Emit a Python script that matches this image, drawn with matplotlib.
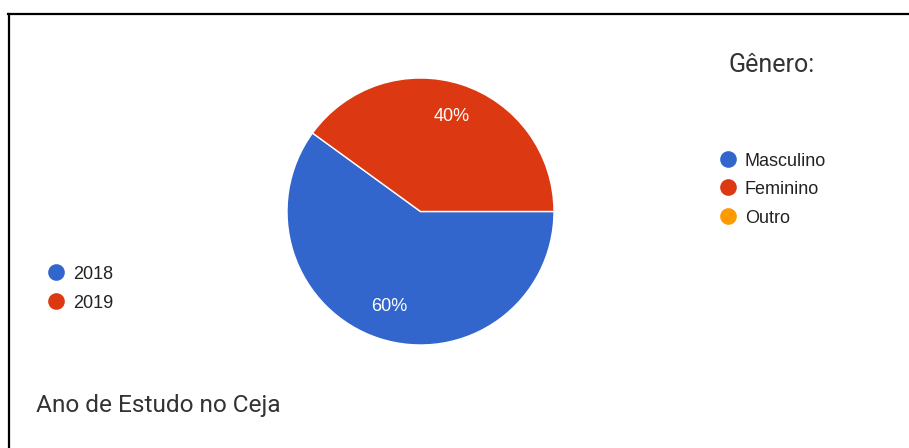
import matplotlib
matplotlib.use("Agg")
import matplotlib.pyplot as plt

W, H = 909, 448

# data
anos = ["2018", "2019"]
percentuais = [60, 40]
cores_anos = ["#3366CC", "#DC3912"]

generos = ["Masculino", "Feminino", "Outro"]
cores_generos = ["#3366CC", "#DC3912", "#FF9900"]

titulo_pizza = "Ano de Estudo no Ceja"
titulo_genero = "Gênero:"

LABEL_FONT = ["Liberation Sans", "DejaVu Sans"]
TITLE_FONT = ["Roboto", "DejaVu Sans"]


def main():
    fig = plt.figure(figsize=(W / 100, H / 100), dpi=100)
    fig.patch.set_facecolor("white")

    # pie axes, placed in pixel units (center 420.5, 211.5, radius 133.5)
    cx, cy, r = 420.5, 211.5, 133.5
    ax = fig.add_axes([(cx - r) / W, (H - cy - r) / H, 2 * r / W, 2 * r / H])
    wedges, texts, autotexts = ax.pie(
        percentuais, colors=cores_anos, startangle=0, counterclock=False,
        autopct="%1.0f%%", pctdistance=0.75,
        wedgeprops=dict(edgecolor="white", linewidth=1.0),
        textprops=dict(color="white", fontsize=13, family=LABEL_FONT))
    ax.set_xlim(-1, 1)
    ax.set_ylim(-1, 1)
    ax.set_aspect("auto")

    # overlay in pixel coordinates for frame, legends and titles
    ov = fig.add_axes([0, 0, 1, 1], zorder=-1)
    ov.set_xlim(0, W)
    ov.set_ylim(H, 0)
    ov.axis("off")

    ov.plot([8, W], [14, 14], color="black", lw=1.6, solid_capstyle="projecting")
    ov.plot([9, 9], [14, H], color="black", lw=1.6, solid_capstyle="projecting")

    # legend for years (left)
    for i, (nome, cor) in enumerate(zip(anos, cores_anos)):
        base = 279.3 + i * 28.5
        ov.plot(56, base - 7, "o", color=cor, markersize=12, markeredgewidth=0)
        ov.text(73, base, nome, fontsize=13, family=LABEL_FONT,
                color="#222222", va="baseline", ha="left")

    # legend for gender (right)
    ov.text(729, 71.7, titulo_genero, fontsize=18, family=TITLE_FONT,
            color="#333333", va="baseline", ha="left")
    for i, (nome, cor) in enumerate(zip(generos, cores_generos)):
        base = 166 + i * 28.5
        ov.plot(728, base - 7, "o", color=cor, markersize=12, markeredgewidth=0)
        ov.text(745, base, nome, fontsize=13, family=LABEL_FONT,
                color="#222222", va="baseline", ha="left")

    ov.text(36, 411.7, titulo_pizza, fontsize=17.6, family=TITLE_FONT,
            color="#333333", va="baseline", ha="left")

    fig.savefig("out.png", dpi=100, facecolor="white")


if __name__ == "__main__":
    main()
